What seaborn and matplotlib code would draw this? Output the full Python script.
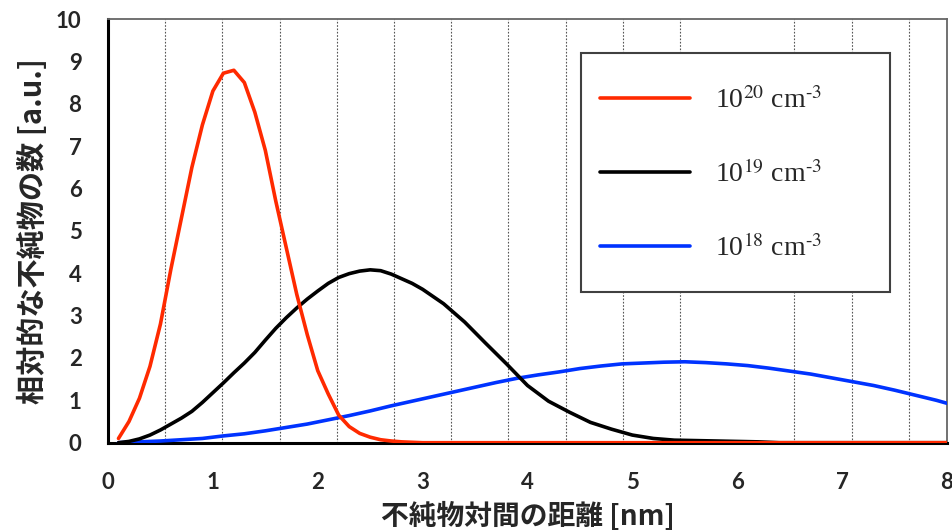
import numpy as np
import pandas as pd
import seaborn as sns
import matplotlib
matplotlib.use("Agg")
import matplotlib.pyplot as plt
from matplotlib.ticker import MultipleLocator
from matplotlib.patches import Rectangle

# ---- data ----
labels = [r"10$^{20}$ cm$^{\text{-}3}$", r"10$^{19}$ cm$^{\text{-}3}$", r"10$^{18}$ cm$^{\text{-}3}$"]
colors = ["#FF2A00", "#000000", "#0033FF"]

x_e20 = [0.1, 0.2, 0.3, 0.4, 0.5, 0.6, 0.7, 0.8, 0.9, 1.0, 1.1, 1.2, 1.3, 1.4,
         1.5, 1.6, 1.7, 1.8, 1.9, 2.0, 2.1, 2.2, 2.3, 2.4, 2.5, 2.6, 2.7, 2.8,
         2.9, 3.0, 4.0, 5.0, 6.0, 7.0, 8.0]
y_e20 = [0.1, 0.5, 1.05, 1.8, 2.8, 4.1, 5.3, 6.5, 7.5, 8.3, 8.72, 8.79, 8.5, 7.8,
         6.9, 5.7, 4.6, 3.5, 2.55, 1.7, 1.15, 0.65, 0.38, 0.22, 0.13, 0.07, 0.04, 0.02,
         0.01, 0.0, 0.0, 0.0, 0.0, 0.0, 0.0]

x_e19 = [0.1, 0.2, 0.3, 0.4, 0.5, 0.6, 0.7, 0.8, 0.9, 1.0, 1.1, 1.2, 1.3, 1.4,
         1.5, 1.6, 1.7, 1.8, 1.9, 2.0, 2.1, 2.2, 2.3, 2.4, 2.5, 2.6, 2.7, 2.8,
         2.9, 3.0, 3.2, 3.4, 3.6, 3.8, 4.0, 4.2, 4.4, 4.6, 4.8,
         5.0, 5.2, 5.4, 5.6, 5.8, 6.0, 6.2, 6.4, 7.0, 8.0]
y_e19 = [0.0, 0.03, 0.09, 0.18, 0.3, 0.44, 0.58, 0.74, 0.95, 1.18, 1.41, 1.65, 1.88, 2.13,
         2.42, 2.7, 2.95, 3.18, 3.39, 3.58, 3.76, 3.9, 3.99, 4.05, 4.08, 4.06, 3.98, 3.87,
         3.76, 3.62, 3.28, 2.85, 2.35, 1.86, 1.35, 0.98, 0.72, 0.48, 0.32,
         0.18, 0.1, 0.06, 0.05, 0.04, 0.03, 0.02, 0.0, 0.0, 0.0]

x_e18 = [0.1, 0.3, 0.5, 0.7, 0.9, 1.1, 1.3, 1.5, 1.7, 1.9, 2.1, 2.3, 2.5, 2.7,
         2.9, 3.1, 3.3, 3.5, 3.7, 3.9, 4.1, 4.3, 4.5, 4.7, 4.9, 5.1, 5.3, 5.5,
         5.7, 5.9, 6.1, 6.3, 6.5, 6.7, 6.9, 7.1, 7.3, 7.5, 7.7, 7.9, 8.0]
y_e18 = [0.0, 0.02, 0.04, 0.07, 0.1, 0.16, 0.21, 0.28, 0.36, 0.44, 0.54, 0.64, 0.75, 0.87,
         0.98, 1.09, 1.2, 1.31, 1.42, 1.52, 1.6, 1.67, 1.75, 1.81, 1.86, 1.88, 1.9, 1.91,
         1.89, 1.86, 1.82, 1.76, 1.69, 1.62, 1.53, 1.44, 1.35, 1.24, 1.12, 1.0, 0.93]

x_ticks = [0, 1, 2, 3, 4, 5, 6, 7, 8]
y_ticks = [0, 1, 2, 3, 4, 5, 6, 7, 8, 9, 10]
xlabel = "不純物対間の距離 [nm]"
ylabel = "相対的な不純物の数 [a.u.]"

# ---- style ----
sns.set_theme(style="white")
plt.rcParams["font.family"] = ["Lato", "DejaVu Sans"]
plt.rcParams["mathtext.fontset"] = "stix"

fig = plt.figure(figsize=(9.53, 5.30), dpi=100)
ax = fig.add_axes([108 / 953, 1 - 442.7 / 530, (947 - 108) / 953, (442.7 - 19) / 530])

series = [(x_e18, y_e18, 2), (x_e19, y_e19, 1), (x_e20, y_e20, 0)]
handles = {}
for xs, ys, i in series:
    df = pd.DataFrame({"x": xs, "y": ys})
    sns.lineplot(data=df, x="x", y="y", color=colors[i], linewidth=2.6,
                 sort=False, estimator=None, ax=ax, zorder=3 + (2 - i))
    handles[i] = ax.lines[-1]

ax.set_xlim(0, 8)
ax.set_ylim(0, 10)
ax.set_xticks(x_ticks)
ax.set_yticks(y_ticks)
ax.xaxis.set_minor_locator(MultipleLocator(6 / 11))
ax.grid(which="minor", axis="x", linestyle=(0, (1.5, 1.5)), color="#555555", linewidth=0.8)
ax.grid(which="major", axis="both", visible=False)
ax.tick_params(axis="x", which="minor", length=0)
ax.tick_params(axis="both", which="major", direction="out", length=8, width=2,
               color="black", labelsize=16)
ax.tick_params(axis="y", pad=11)
ax.tick_params(axis="x", pad=13)
for lab in ax.get_xticklabels() + ax.get_yticklabels():
    lab.set_fontweight("bold")

for s in ["left", "bottom"]:
    ax.spines[s].set_color("black")
    ax.spines[s].set_linewidth(2.2)
for s in ["top", "right"]:
    ax.spines[s].set_color("#666666")
    ax.spines[s].set_linewidth(1.3)

cjk = ["Noto Sans CJK JP", "DejaVu Sans"]
ax.set_xlabel(xlabel, family=cjk, fontsize=20, fontweight="bold")
ax.set_ylabel(ylabel, family=cjk, fontsize=21, fontweight="bold")
ax.xaxis.set_label_coords(0.5, -0.138)
ax.yaxis.set_label_coords(-0.072, 0.5)

# legend box
box = Rectangle((0.564, 0.356), 0.932 - 0.564, 0.92 - 0.356, transform=ax.transAxes,
                facecolor="white", edgecolor="#404040", linewidth=1.5, zorder=9)
ax.add_patch(box)
leg = ax.legend([handles[0], handles[1], handles[2]], labels,
                loc="upper left", bbox_to_anchor=(0.586, 0.839),
                prop={"family": "Liberation Serif", "size": 20},
                frameon=False, borderpad=0, labelspacing=1.67,
                handlelength=3.25, handletextpad=0.9, borderaxespad=0)
leg.set_zorder(10)

fig.savefig("out.png", dpi=100)
